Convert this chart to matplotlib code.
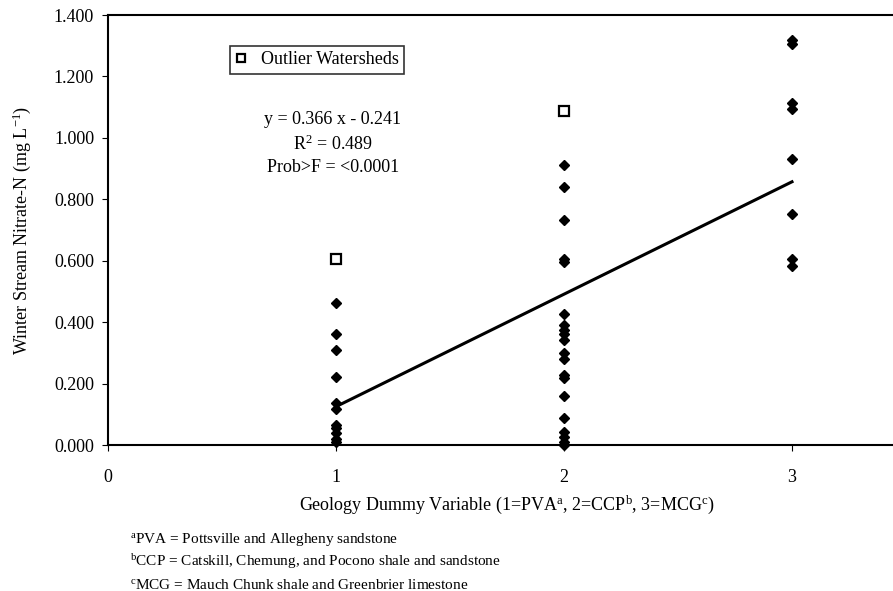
import matplotlib
matplotlib.use("Agg")
import matplotlib.pyplot as plt
import numpy as np

plt.rcParams['font.family'] = ['Liberation Serif', 'DejaVu Serif']
plt.rcParams['mathtext.fontset'] = 'custom'
plt.rcParams['mathtext.rm'] = 'Liberation Serif'
plt.rcParams['mathtext.it'] = 'Liberation Serif:italic'

# Data
pva_vals = [0.462, 0.362, 0.310, 0.222, 0.136, 0.118, 0.065, 0.055, 0.040, 0.020, 0.010]
ccp_vals = [0.912, 0.840, 0.732, 0.606, 0.596, 0.428, 0.390, 0.375, 0.361, 0.343, 0.299, 0.280,
            0.228, 0.218, 0.160, 0.087, 0.043, 0.027, 0.011, 0.000]
mcg_vals = [1.318, 1.305, 1.113, 1.093, 0.930, 0.753, 0.604, 0.582]
outlier_x = [1, 2]
outlier_y = [0.604, 1.087]
slope, intercept = 0.366, -0.241
fit_x = [1, 3]
y_ticks = [0.0, 0.2, 0.4, 0.6, 0.8, 1.0, 1.2, 1.4]
x_ticks = [0, 1, 2, 3]

W, H = 893, 591
fig = plt.figure(figsize=(W / 100, H / 100), dpi=100)
left, right, bottom, top = 108, 906, 445, 15
ax = fig.add_axes([left / W, 1 - bottom / H, (right - left) / W, (bottom - top) / H])

xs = [1] * len(pva_vals) + [2] * len(ccp_vals) + [3] * len(mcg_vals)
ys = pva_vals + ccp_vals + mcg_vals
ax.plot(xs, ys, linestyle='none', marker='D', color='black', markersize=5.5, clip_on=False, zorder=3)
ax.plot(outlier_x, outlier_y, linestyle='none', marker='s', markerfacecolor='white',
        markeredgecolor='black', markeredgewidth=1.6, markersize=7, zorder=4,
        label='Outlier Watersheds')
fx = np.array(fit_x, dtype=float)
ax.plot(fx, slope * fx + intercept, color='black', linewidth=2.2, zorder=2)

ax.set_xlim(0, 3.5)
ax.set_ylim(0, 1.4)
ax.set_xticks(x_ticks)
ax.set_xticklabels([str(t) for t in x_ticks])
ax.set_yticks(y_ticks)
ax.set_yticklabels([f"{t:.3f}" for t in y_ticks])
ax.tick_params(axis='both', direction='out', length=4, width=0.8, labelsize=13, colors='black')
ax.tick_params(axis='x', pad=13)
ax.tick_params(axis='y', pad=6)
for s in ['left', 'bottom', 'top']:
    ax.spines[s].set_linewidth(1.5)
ax.spines['right'].set_visible(False)

ax.set_ylabel('Winter Stream Nitrate-N (mg L$^{-1}$)', fontsize=13, labelpad=15)
ax.set_xlabel('Geology Dummy Variable (1=PVA$^{\\mathrm{a}}$, 2=CCP$^{\\mathrm{b}}$, 3=MCG$^{\\mathrm{c}}$)',
              fontsize=13, labelpad=6)

leg = ax.legend(loc='upper left', bbox_to_anchor=((230 - left) / (right - left), (bottom - 46) / (bottom - top)),
                fontsize=13, frameon=True, fancybox=False, handlelength=0.6, handletextpad=0.8,
                borderpad=0.3, borderaxespad=0, markerscale=0.75)
leg.get_frame().set_edgecolor('black')
leg.get_frame().set_linewidth(1.2)

fig.text(333 / W, 1 - 119 / H, 'y = 0.366 x - 0.241', ha='center', va='center', fontsize=13)
fig.text(333 / W, 1 - 144 / H, 'R$^{2}$ = 0.489', ha='center', va='center', fontsize=13)
fig.text(333 / W, 1 - 168 / H, 'Prob>F = <0.0001', ha='center', va='center', fontsize=13)

notes = ['$^{\\mathrm{a}}$PVA = Pottsville and Allegheny sandstone',
         '$^{\\mathrm{b}}$CCP = Catskill, Chemung, and Pocono shale and sandstone',
         '$^{\\mathrm{c}}$MCG = Mauch Chunk shale and Greenbrier limestone']
for i, n in enumerate(notes):
    fig.text(130 / W, 1 - (539 + i * 23) / H, n, ha='left', va='center', fontsize=11)

fig.savefig('out.png', dpi=100)
